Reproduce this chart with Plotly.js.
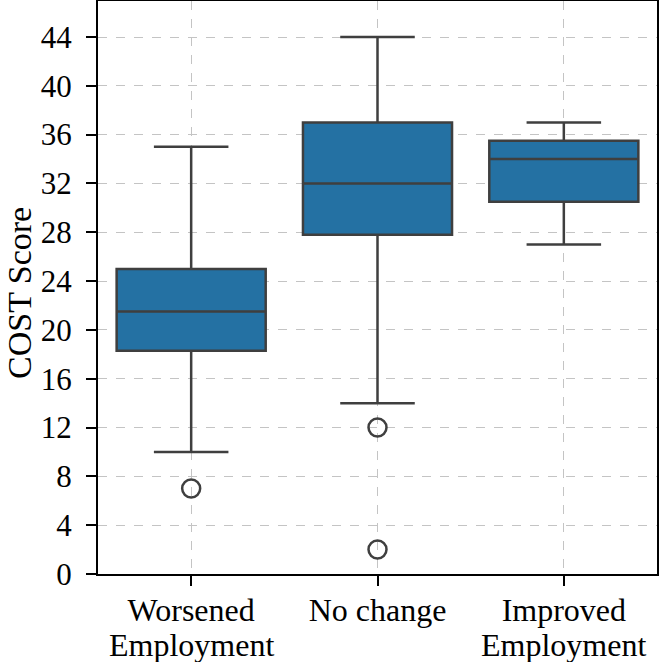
<!DOCTYPE html>
<html>
<head>
<meta charset="utf-8">
<script src="https://cdn.plot.ly/plotly-3.0.1.min.js"></script>
<style>
  html, body { margin: 0; padding: 0; background: #ffffff; }
  #chart { width: 662px; height: 662px; }
</style>
</head>
<body>
<div id="chart"></div>
<script>
// Employment-change groups and their COST score distributions
const categories = ['Worsened<br>Employment', 'No change', 'Improved<br>Employment'];
const lowerWhisker = [10, 14, 27];
const q1 = [18.3, 27.8, 30.5];
const medians = [21.5, 32, 34];
const q3 = [25, 37, 35.5];
const upperWhisker = [35, 44, 37];

// Values beyond the whiskers
const outlierGroups = ['Worsened<br>Employment', 'No change', 'No change'];
const outlierValues = [7, 12, 2];

const yTicks = [0, 4, 8, 12, 16, 20, 24, 28, 32, 36, 40, 44];
const yTitle = 'COST Score';

const FONT = 'Liberation Serif, Times New Roman, serif';
const EDGE = '#3f3f3f';

// Category labels: first line as tick text, second line (if any) set just below
const firstLines = categories.map(c => c.split('<br>')[0]);
const secondLines = categories.map(c => c.split('<br>')[1] || '');

const boxes = {
  type: 'box',
  x: categories,
  q1: q1,
  median: medians,
  q3: q3,
  lowerfence: lowerWhisker,
  upperfence: upperWhisker,
  boxpoints: false,
  width: 0.8,
  whiskerwidth: 0.5,
  fillcolor: '#2471a3',
  line: { color: EDGE, width: 2.5 },
  hoverinfo: 'skip',
  showlegend: false
};

const fliers = {
  type: 'scatter',
  mode: 'markers',
  x: outlierGroups,
  y: outlierValues,
  marker: {
    symbol: 'circle-open',
    size: 18,
    color: EDGE,
    line: { color: EDGE, width: 2.5 }
  },
  hoverinfo: 'skip',
  showlegend: false
};

const annotations = categories
  .map((c, i) => ({ c: c, t: secondLines[i] }))
  .filter(o => o.t)
  .map(o => ({
    xref: 'x', yref: 'paper',
    x: o.c, y: 0,
    xanchor: 'center', yanchor: 'top',
    yshift: -51,
    text: o.t,
    showarrow: false,
    font: { family: FONT, size: 32, color: '#000000' }
  }));

// Vertical axis title, set close to the left edge
annotations.push({
  xref: 'paper', yref: 'paper',
  x: 0, y: 0.5,
  xanchor: 'left', yanchor: 'middle',
  xshift: -98, yshift: -6,
  borderpad: 0,
  textangle: -90,
  text: yTitle,
  showarrow: false,
  font: { family: FONT, size: 34, color: '#000000' }
});

const layout = {
  width: 662,
  height: 662,
  margin: { l: 98, r: 5, t: 1, b: 88 },
  paper_bgcolor: '#ffffff',
  plot_bgcolor: '#ffffff',
  font: { family: FONT, size: 30, color: '#000000' },
  showlegend: false,
  annotations: annotations,
  xaxis: {
    type: 'category',
    categoryorder: 'array',
    categoryarray: categories,
    tickvals: categories,
    ticktext: firstLines,
    range: [-0.5, 2.5],
    showline: true,
    mirror: true,
    linecolor: '#000000',
    linewidth: 2,
    ticks: 'outside',
    ticklen: 10,
    tickwidth: 2,
    tickcolor: '#000000',
    showgrid: true,
    gridcolor: '#c4c4c4',
    griddash: 'dash',
    gridwidth: 1,
    zeroline: false,
    tickfont: { family: FONT, size: 32 },
    ticklabelstandoff: -3,
    automargin: false
  },
  yaxis: {
    range: [0, 46.95],
    tickvals: yTicks,
    ticktext: yTicks.map(String),
    showline: true,
    mirror: true,
    linecolor: '#000000',
    linewidth: 2,
    ticks: 'outside',
    ticklen: 10,
    tickwidth: 2,
    tickcolor: '#000000',
    showgrid: true,
    gridcolor: '#c4c4c4',
    griddash: 'dash',
    gridwidth: 1,
    zeroline: false,
    tickfont: { family: FONT, size: 31 },
    ticklabelstandoff: 8,
    automargin: false
  }
};

Plotly.newPlot('chart', [boxes, fliers], layout, { displayModeBar: false, staticPlot: true });
</script>
</body>
</html>
